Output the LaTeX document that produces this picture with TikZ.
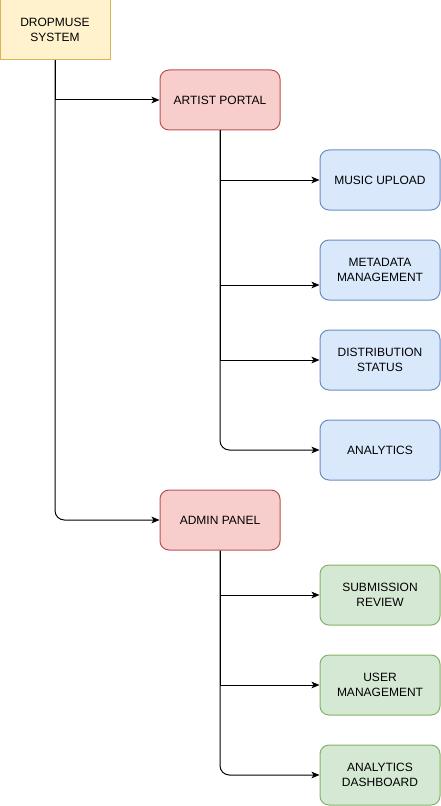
\documentclass[tikz,border=0pt]{standalone}
\usepackage{fontspec}
\setmainfont{Liberation Sans}
\usetikzlibrary{arrows.meta,calc}
\definecolor{sysfill}{HTML}{FFF2CC}
\definecolor{sysline}{HTML}{D6B656}
\definecolor{portfill}{HTML}{F8CECC}
\definecolor{portline}{HTML}{B85450}
\definecolor{artfill}{HTML}{DAE8FC}
\definecolor{artline}{HTML}{6C8EBF}
\definecolor{admfill}{HTML}{D5E8D4}
\definecolor{admline}{HTML}{82B366}
\tikzset{
	box/.style={draw, line width=0.75pt, minimum width=90pt, minimum height=45pt, align=center, inner sep=1pt, font=\fontsize{9}{11.25}\selectfont},
	sysbox/.style={box, fill=sysfill, draw=sysline, minimum width=82.5pt},
	portbox/.style={box, rounded corners=6.75pt, fill=portfill, draw=portline},
	artbox/.style={box, rounded corners=6.75pt, fill=artfill, draw=artline},
	admbox/.style={box, rounded corners=6.75pt, fill=admfill, draw=admline},
	link/.style={line width=0.75pt, -{Stealth[length=6pt,width=5pt,inset=1.5pt]}}
}
\begin{document}
\begin{tikzpicture}[x=0.75pt,y=-0.75pt]
	\useasboundingbox (0,0) rectangle (441,806);
	%rendszer
	\node [sysbox] (sys) at (55,30) {DROPMUSE\\SYSTEM};
	%portálok
	\node [portbox] (artist) at (220,100) {ARTIST PORTAL};
	\node [portbox] (admin) at (220,520) {ADMIN PANEL};
	%előadói funkciók
	\node [artbox] (upload) at (380,180) {MUSIC UPLOAD};
	\node [artbox] (meta) at (380,270) {METADATA\\MANAGEMENT};
	\node [artbox] (distr) at (380,360) {DISTRIBUTION\\STATUS};
	\node [artbox] (analytics) at (380,450) {ANALYTICS};
	%admin funkciók
	\node [admbox] (review) at (380,595) {SUBMISSION\\REVIEW};
	\node [admbox] (users) at (380,685) {USER\\MANAGEMENT};
	\node [admbox] (dash) at (380,775) {ANALYTICS\\DASHBOARD};
	\coordinate (metain) at ($(meta.west)+(0,15)$);
	
	%kapcsolatok
	\draw [link] (sys.south) |- (artist.west);
	\draw [link, rounded corners=7pt] (sys.south) |- (admin.west);
	\draw [link] (artist.south) |- (upload.west);
	\draw [link] (artist.south) |- (metain);
	\draw [link] (artist.south) |- (distr.west);
	\draw [link, rounded corners=7pt] (artist.south) |- (analytics.west);
	\draw [link] (admin.south) |- (review.west);
	\draw [link] (admin.south) |- (users.west);
	\draw [link, rounded corners=7pt] (admin.south) |- (dash.west);
\end{tikzpicture}
\end{document}
